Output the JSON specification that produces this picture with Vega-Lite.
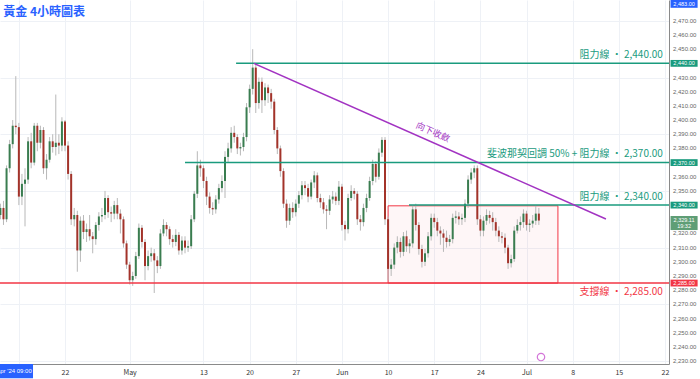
{
"$schema": "https://vega.github.io/schema/vega-lite/v6.json",
"width": 669, "height": 364,
"autosize": {"type": "none"},
"padding": {"left": 0, "top": 0, "right": 31, "bottom": 15},
"background": "white",
"config": {
"view": {"stroke": null},
"font": "Noto Sans CJK TC",
"axis": {"labelOverlap": false, "labelFlush": false, "labelBound": false, "ticks": false, "grid": true, "gridColor": "#eef1f6", "gridWidth": 1, "domainColor": "#8a8a8a", "domainWidth": 1, "title": null},
"axisX": {"labelFontSize": 7, "labelColor": "#333", "labelPadding": 4},
"axisY": {"labels": false}
},
"datasets": {
"candles": [
{"i":-6,"o":2333,"h":2341,"l":2330,"c":2338},
{"i":-5,"o":2338,"h":2343,"l":2326,"c":2330},
{"i":-4,"o":2330,"h":2368,"l":2328,"c":2366},
{"i":-3,"o":2366,"h":2386,"l":2363,"c":2383},
{"i":-2,"o":2383,"h":2400,"l":2380,"c":2396},
{"i":-1,"o":2396,"h":2431,"l":2390,"c":2395},
{"i":0,"o":2395,"h":2398,"l":2340,"c":2346},
{"i":1,"o":2346,"h":2362,"l":2340,"c":2355},
{"i":2,"o":2355,"h":2366,"l":2325,"c":2358},
{"i":3,"o":2358,"h":2388,"l":2355,"c":2385},
{"i":4,"o":2385,"h":2391,"l":2366,"c":2370},
{"i":5,"o":2370,"h":2398,"l":2368,"c":2396},
{"i":6,"o":2396,"h":2398,"l":2378,"c":2384},
{"i":7,"o":2384,"h":2396,"l":2380,"c":2393},
{"i":8,"o":2393,"h":2395,"l":2362,"c":2366},
{"i":9,"o":2366,"h":2376,"l":2358,"c":2372},
{"i":10,"o":2372,"h":2388,"l":2370,"c":2385},
{"i":11,"o":2385,"h":2390,"l":2377,"c":2381},
{"i":12,"o":2381,"h":2418,"l":2375,"c":2384},
{"i":13,"o":2384,"h":2390,"l":2376,"c":2382},
{"i":14,"o":2382,"h":2402,"l":2378,"c":2399},
{"i":15,"o":2399,"h":2400,"l":2378,"c":2382},
{"i":16,"o":2382,"h":2385,"l":2358,"c":2362},
{"i":17,"o":2362,"h":2364,"l":2326,"c":2330},
{"i":18,"o":2330,"h":2338,"l":2325,"c":2333},
{"i":19,"o":2333,"h":2336,"l":2293,"c":2308},
{"i":20,"o":2308,"h":2332,"l":2300,"c":2329},
{"i":21,"o":2329,"h":2333,"l":2316,"c":2321},
{"i":22,"o":2321,"h":2327,"l":2314,"c":2323},
{"i":23,"o":2323,"h":2333,"l":2315,"c":2318},
{"i":24,"o":2318,"h":2321,"l":2306,"c":2316},
{"i":25,"o":2316,"h":2328,"l":2312,"c":2326},
{"i":26,"o":2326,"h":2335,"l":2322,"c":2332},
{"i":27,"o":2332,"h":2338,"l":2328,"c":2333},
{"i":28,"o":2333,"h":2350,"l":2330,"c":2345},
{"i":29,"o":2345,"h":2347,"l":2331,"c":2335},
{"i":30,"o":2335,"h":2339,"l":2328,"c":2334},
{"i":31,"o":2334,"h":2343,"l":2330,"c":2340},
{"i":32,"o":2340,"h":2345,"l":2330,"c":2334},
{"i":33,"o":2334,"h":2337,"l":2320,"c":2330},
{"i":34,"o":2330,"h":2332,"l":2310,"c":2313},
{"i":35,"o":2313,"h":2315,"l":2295,"c":2298},
{"i":36,"o":2298,"h":2300,"l":2284,"c":2287},
{"i":37,"o":2287,"h":2293,"l":2283,"c":2290},
{"i":38,"o":2290,"h":2307,"l":2288,"c":2304},
{"i":39,"o":2304,"h":2327,"l":2302,"c":2324},
{"i":40,"o":2324,"h":2326,"l":2310,"c":2314},
{"i":41,"o":2314,"h":2316,"l":2287,"c":2297},
{"i":42,"o":2297,"h":2308,"l":2294,"c":2304},
{"i":43,"o":2304,"h":2310,"l":2300,"c":2306},
{"i":44,"o":2306,"h":2309,"l":2278,"c":2301},
{"i":45,"o":2301,"h":2304,"l":2292,"c":2297},
{"i":46,"o":2297,"h":2323,"l":2295,"c":2320},
{"i":47,"o":2320,"h":2330,"l":2318,"c":2326},
{"i":48,"o":2326,"h":2328,"l":2318,"c":2323},
{"i":49,"o":2323,"h":2325,"l":2312,"c":2316},
{"i":50,"o":2316,"h":2319,"l":2310,"c":2314},
{"i":51,"o":2314,"h":2323,"l":2311,"c":2319},
{"i":52,"o":2319,"h":2321,"l":2305,"c":2308},
{"i":53,"o":2308,"h":2318,"l":2305,"c":2315},
{"i":54,"o":2315,"h":2318,"l":2306,"c":2310},
{"i":55,"o":2310,"h":2315,"l":2307,"c":2311},
{"i":56,"o":2311,"h":2333,"l":2309,"c":2330},
{"i":57,"o":2330,"h":2350,"l":2328,"c":2348},
{"i":58,"o":2348,"h":2378,"l":2345,"c":2368},
{"i":59,"o":2368,"h":2372,"l":2360,"c":2366},
{"i":60,"o":2366,"h":2368,"l":2352,"c":2357},
{"i":61,"o":2357,"h":2360,"l":2340,"c":2346},
{"i":62,"o":2346,"h":2349,"l":2334,"c":2338},
{"i":63,"o":2338,"h":2342,"l":2333,"c":2337},
{"i":64,"o":2337,"h":2347,"l":2334,"c":2344},
{"i":65,"o":2344,"h":2355,"l":2341,"c":2352},
{"i":66,"o":2352,"h":2361,"l":2349,"c":2357},
{"i":67,"o":2357,"h":2378,"l":2345,"c":2374},
{"i":68,"o":2374,"h":2384,"l":2370,"c":2380},
{"i":69,"o":2380,"h":2395,"l":2377,"c":2391},
{"i":70,"o":2391,"h":2396,"l":2384,"c":2388},
{"i":71,"o":2388,"h":2390,"l":2376,"c":2380},
{"i":72,"o":2380,"h":2384,"l":2375,"c":2381},
{"i":73,"o":2381,"h":2391,"l":2378,"c":2388},
{"i":74,"o":2388,"h":2412,"l":2385,"c":2409},
{"i":75,"o":2409,"h":2425,"l":2405,"c":2422},
{"i":76,"o":2422,"h":2450,"l":2418,"c":2437},
{"i":77,"o":2437,"h":2440,"l":2405,"c":2412},
{"i":78,"o":2412,"h":2430,"l":2408,"c":2427},
{"i":79,"o":2427,"h":2430,"l":2405,"c":2414},
{"i":80,"o":2414,"h":2426,"l":2410,"c":2423},
{"i":81,"o":2423,"h":2425,"l":2412,"c":2419},
{"i":82,"o":2419,"h":2422,"l":2408,"c":2413},
{"i":83,"o":2413,"h":2415,"l":2390,"c":2393},
{"i":84,"o":2393,"h":2395,"l":2376,"c":2380},
{"i":85,"o":2380,"h":2382,"l":2360,"c":2364},
{"i":86,"o":2364,"h":2366,"l":2338,"c":2341},
{"i":87,"o":2341,"h":2344,"l":2324,"c":2329},
{"i":88,"o":2329,"h":2341,"l":2326,"c":2338},
{"i":89,"o":2338,"h":2342,"l":2331,"c":2335},
{"i":90,"o":2335,"h":2344,"l":2332,"c":2341},
{"i":91,"o":2341,"h":2350,"l":2338,"c":2347},
{"i":92,"o":2347,"h":2357,"l":2344,"c":2354},
{"i":93,"o":2354,"h":2357,"l":2347,"c":2352},
{"i":94,"o":2352,"h":2355,"l":2342,"c":2346},
{"i":95,"o":2346,"h":2358,"l":2344,"c":2356},
{"i":96,"o":2356,"h":2364,"l":2352,"c":2361},
{"i":97,"o":2361,"h":2363,"l":2342,"c":2345},
{"i":98,"o":2345,"h":2348,"l":2338,"c":2342},
{"i":99,"o":2342,"h":2345,"l":2334,"c":2337},
{"i":100,"o":2337,"h":2340,"l":2323,"c":2336},
{"i":101,"o":2336,"h":2347,"l":2333,"c":2344},
{"i":102,"o":2344,"h":2350,"l":2341,"c":2346},
{"i":103,"o":2346,"h":2349,"l":2340,"c":2343},
{"i":104,"o":2343,"h":2357,"l":2340,"c":2353},
{"i":105,"o":2353,"h":2355,"l":2322,"c":2326},
{"i":106,"o":2326,"h":2329,"l":2315,"c":2323},
{"i":107,"o":2323,"h":2348,"l":2320,"c":2345},
{"i":108,"o":2345,"h":2354,"l":2343,"c":2350},
{"i":109,"o":2350,"h":2352,"l":2344,"c":2348},
{"i":110,"o":2348,"h":2350,"l":2326,"c":2330},
{"i":111,"o":2330,"h":2333,"l":2322,"c":2328},
{"i":112,"o":2328,"h":2341,"l":2325,"c":2338},
{"i":113,"o":2338,"h":2348,"l":2335,"c":2345},
{"i":114,"o":2345,"h":2360,"l":2343,"c":2357},
{"i":115,"o":2357,"h":2372,"l":2354,"c":2369},
{"i":116,"o":2369,"h":2371,"l":2356,"c":2360},
{"i":117,"o":2360,"h":2380,"l":2358,"c":2377},
{"i":118,"o":2377,"h":2388,"l":2374,"c":2386},
{"i":119,"o":2386,"h":2388,"l":2326,"c":2330},
{"i":120,"o":2330,"h":2332,"l":2287,"c":2295},
{"i":121,"o":2295,"h":2302,"l":2290,"c":2298},
{"i":122,"o":2298,"h":2313,"l":2295,"c":2310},
{"i":123,"o":2310,"h":2318,"l":2306,"c":2314},
{"i":124,"o":2314,"h":2317,"l":2303,"c":2307},
{"i":125,"o":2307,"h":2321,"l":2304,"c":2318},
{"i":126,"o":2318,"h":2322,"l":2307,"c":2311},
{"i":127,"o":2311,"h":2316,"l":2306,"c":2313},
{"i":128,"o":2313,"h":2340,"l":2310,"c":2337},
{"i":129,"o":2337,"h":2341,"l":2322,"c":2326},
{"i":130,"o":2326,"h":2328,"l":2305,"c":2309},
{"i":131,"o":2309,"h":2312,"l":2296,"c":2300},
{"i":132,"o":2300,"h":2309,"l":2297,"c":2306},
{"i":133,"o":2306,"h":2321,"l":2303,"c":2318},
{"i":134,"o":2318,"h":2334,"l":2315,"c":2331},
{"i":135,"o":2331,"h":2334,"l":2324,"c":2328},
{"i":136,"o":2328,"h":2331,"l":2318,"c":2322},
{"i":137,"o":2322,"h":2325,"l":2312,"c":2320},
{"i":138,"o":2320,"h":2323,"l":2307,"c":2317},
{"i":139,"o":2317,"h":2322,"l":2310,"c":2314},
{"i":140,"o":2314,"h":2319,"l":2311,"c":2316},
{"i":141,"o":2316,"h":2334,"l":2313,"c":2331},
{"i":142,"o":2331,"h":2336,"l":2327,"c":2332},
{"i":143,"o":2332,"h":2335,"l":2326,"c":2330},
{"i":144,"o":2330,"h":2334,"l":2326,"c":2331},
{"i":145,"o":2331,"h":2344,"l":2328,"c":2341},
{"i":146,"o":2341,"h":2361,"l":2338,"c":2358},
{"i":147,"o":2358,"h":2366,"l":2355,"c":2363},
{"i":148,"o":2363,"h":2368,"l":2359,"c":2366},
{"i":149,"o":2366,"h":2368,"l":2326,"c":2330},
{"i":150,"o":2330,"h":2333,"l":2318,"c":2322},
{"i":151,"o":2322,"h":2332,"l":2318,"c":2329},
{"i":152,"o":2329,"h":2337,"l":2326,"c":2333},
{"i":153,"o":2333,"h":2336,"l":2327,"c":2331},
{"i":154,"o":2331,"h":2335,"l":2322,"c":2328},
{"i":155,"o":2328,"h":2331,"l":2318,"c":2322},
{"i":156,"o":2322,"h":2325,"l":2314,"c":2318},
{"i":157,"o":2318,"h":2321,"l":2313,"c":2317},
{"i":158,"o":2317,"h":2320,"l":2306,"c":2310},
{"i":159,"o":2310,"h":2312,"l":2295,"c":2299},
{"i":160,"o":2299,"h":2305,"l":2296,"c":2302},
{"i":161,"o":2302,"h":2325,"l":2300,"c":2322},
{"i":162,"o":2322,"h":2330,"l":2320,"c":2326},
{"i":163,"o":2326,"h":2332,"l":2322,"c":2328},
{"i":164,"o":2328,"h":2337,"l":2324,"c":2334},
{"i":165,"o":2334,"h":2336,"l":2322,"c":2326},
{"i":166,"o":2326,"h":2330,"l":2321,"c":2327},
{"i":167,"o":2327,"h":2333,"l":2324,"c":2329},
{"i":168,"o":2329,"h":2340,"l":2326,"c":2334},
{"i":169,"o":2334,"h":2338,"l":2326,"c":2329.11}
],
"yticks": [
{"v":2230},{"v":2240},{"v":2250},{"v":2260},{"v":2270},{"v":2280},{"v":2290},{"v":2300},{"v":2310},{"v":2320},{"v":2350},
{"v":2360},{"v":2380},{"v":2390},{"v":2400},{"v":2410},{"v":2420},{"v":2430},{"v":2450},{"v":2460},{"v":2470}
],
"levels": [
{"a":70.6,"b":211.3,"p":2440,"kind":"res"},
{"a":54,"b":211.3,"p":2370,"kind":"res"},
{"a":126.8,"b":211.3,"p":2340,"kind":"res"},
{"a":-6.2,"b":211.3,"p":2285,"kind":"sup"}
],
"trend": [{"i":76.4,"p":2440,"i2":190.8,"p2":2330.2}],
"box": [{"a":120.0,"b":175.2,"lo":2285,"hi":2339.5}],
"notes": [
{"x":209.3,"y":2445.6,"txt":"阻力線 · 2,440.00","kind":"res"},
{"x":209.3,"y":2375.8,"txt":"斐波那契回調 50% + 阻力線 · 2,370.00","kind":"res"},
{"x":209.3,"y":2345.5,"txt":"阻力線 · 2,340.00","kind":"res"},
{"x":209.3,"y":2278.9,"txt":"支撐線 · 2,285.00","kind":"sup"}
],
"trendnote": [{"x":134.6,"y":2391.5,"txt":"向下收斂"}],
"title": [{"x":-5.1,"y":2476.2,"txt":"黃金 4小時圖表"}],
"tagboxes": [
{"lo":2479.2,"hi":2485,"kind":"cross"},
{"lo":2437.6,"hi":2442.4,"kind":"res"},
{"lo":2367.6,"hi":2372.4,"kind":"res"},
{"lo":2337.6,"hi":2342.4,"kind":"res"},
{"lo":2322.4,"hi":2332.3,"kind":"last"},
{"lo":2282.6,"hi":2287.4,"kind":"sup"}
],
"tagtext": [
{"p":2482,"txt":"2,483.00"},
{"p":2440,"txt":"2,440.00"},
{"p":2370,"txt":"2,370.00"},
{"p":2340,"txt":"2,340.00"},
{"p":2329.4,"txt":"2,329.11"},
{"p":2325,"txt":"19:32"},
{"p":2285,"txt":"2,285.00"}
],
"datetag": [{"a":-8,"b":4.6,"lo":2217.8,"hi":2227.9,"xt":4.2,"yt":2222.8,"txt":"Apr '24   09:00"}],
"event": [{"i":169.7,"p":2232.8}]
},
"layer": [
{
"data": {"name": "box"},
"mark": {"type": "rect", "fill": "#f23645", "fillOpacity": 0.045, "stroke": "#f23645", "strokeWidth": 1},
"encoding": {
"x": {"field": "a", "type": "quantitative", "scale": {"domain": [-6.13, 211.3], "nice": false, "zero": false},
"axis": {"title": null, "orient": "bottom", "values": [0,15,36,60,75,90,105,120,135,150,165,180,195,210],
"labelExpr": "datum.value==15?'22':datum.value==36?'May':datum.value==60?'13':datum.value==75?'20':datum.value==90?'27':datum.value==105?'Jun':datum.value==120?'10':datum.value==135?'17':datum.value==150?'24':datum.value==165?'Jul':datum.value==180?'8':datum.value==195?'15':datum.value==210?'22':''"}},
"x2": {"field": "b"},
"y": {"field": "lo", "type": "quantitative", "scale": {"domain": [2227.9, 2484.7], "nice": false, "zero": false},
"axis": {"title": null, "orient": "right", "labels": false, "values": [2230,2240,2250,2260,2270,2280,2290,2300,2310,2320,2330,2340,2350,2360,2370,2380,2390,2400,2410,2420,2430,2440,2450,2460,2470,2480]}},
"y2": {"field": "hi"}
}
},
{
"data": {"name": "yticks"},
"mark": {"type": "text", "align": "left", "baseline": "middle", "fontSize": 6, "color": "#666", "font": "Liberation Sans"},
"encoding": {
"x": {"datum": 212.6, "type": "quantitative"},
"y": {"field": "v", "type": "quantitative"},
"text": {"field": "v", "type": "quantitative", "format": ",.2f"}
}
},
{
"data": {"name": "candles"},
"mark": {"type": "rule", "color": "#b8b8b8", "strokeWidth": 1},
"encoding": {
"x": {"field": "i", "type": "quantitative"},
"y": {"field": "l", "type": "quantitative"},
"y2": {"field": "h"}
}
},
{
"data": {"name": "candles"},
"mark": {"type": "rule", "strokeWidth": 2, "strokeCap": "butt"},
"encoding": {
"x": {"field": "i", "type": "quantitative"},
"y": {"field": "o", "type": "quantitative"},
"y2": {"field": "c"},
"color": {"condition": {"test": "datum.c >= datum.o", "value": "#3a7d50"}, "value": "#a3332a"}
}
},
{
"data": {"name": "levels"},
"mark": {"type": "rule", "strokeWidth": 1.5},
"encoding": {
"x": {"field": "a", "type": "quantitative"},
"x2": {"field": "b"},
"y": {"field": "p", "type": "quantitative"},
"color": {"field": "kind", "type": "nominal", "legend": null, "scale": {"domain": ["res","sup","last","cross"], "range": ["#1a9b7e","#f23645","#5f9e76","#2962ff"]}}
}
},
{
"data": {"name": "trend"},
"mark": {"type": "rule", "strokeWidth": 1.5, "color": "#a233c2"},
"encoding": {
"x": {"field": "i", "type": "quantitative"},
"x2": {"field": "i2"},
"y": {"field": "p", "type": "quantitative"},
"y2": {"field": "p2"}
}
},
{
"data": {"name": "notes"},
"mark": {"type": "text", "align": "right", "baseline": "middle", "fontSize": 10},
"encoding": {
"x": {"field": "x", "type": "quantitative"},
"y": {"field": "y", "type": "quantitative"},
"text": {"field": "txt"},
"color": {"field": "kind", "type": "nominal", "legend": null}
}
},
{
"data": {"name": "trendnote"},
"mark": {"type": "text", "align": "center", "baseline": "middle", "fontSize": 9, "angle": 24, "color": "#a233c2"},
"encoding": {
"x": {"field": "x", "type": "quantitative"},
"y": {"field": "y", "type": "quantitative"},
"text": {"field": "txt"}
}
},
{
"data": {"name": "title"},
"mark": {"type": "text", "align": "left", "baseline": "middle", "fontSize": 12, "fontWeight": "bold", "color": "#2962ff"},
"encoding": {
"x": {"field": "x", "type": "quantitative"},
"y": {"field": "y", "type": "quantitative"},
"text": {"field": "txt"}
}
},
{
"data": {"name": "tagboxes"},
"mark": {"type": "rect"},
"encoding": {
"x": {"datum": 211.8, "type": "quantitative"},
"x2": {"datum": 220.6},
"y": {"field": "lo", "type": "quantitative"},
"y2": {"field": "hi"},
"color": {"field": "kind", "type": "nominal", "legend": null}
}
},
{
"data": {"name": "tagtext"},
"mark": {"type": "text", "align": "center", "baseline": "middle", "fontSize": 5.5, "color": "white", "font": "Liberation Sans"},
"encoding": {
"x": {"datum": 216.2, "type": "quantitative"},
"y": {"field": "p", "type": "quantitative"},
"text": {"field": "txt"}
}
},
{
"data": {"name": "datetag"},
"mark": {"type": "rect", "color": "#2962ff"},
"encoding": {
"x": {"field": "a", "type": "quantitative"},
"x2": {"field": "b"},
"y": {"field": "lo", "type": "quantitative"},
"y2": {"field": "hi"}
}
},
{
"data": {"name": "datetag"},
"mark": {"type": "text", "align": "right", "baseline": "middle", "fontSize": 6, "color": "white", "font": "Liberation Sans"},
"encoding": {
"x": {"field": "xt", "type": "quantitative"},
"y": {"field": "yt", "type": "quantitative"},
"text": {"field": "txt"}
}
},
{
"data": {"name": "event"},
"mark": {"type": "point", "shape": "circle", "size": 55, "filled": false, "stroke": "#c23cc9", "strokeWidth": 1.2},
"encoding": {
"x": {"field": "i", "type": "quantitative"},
"y": {"field": "p", "type": "quantitative"}
}
}
]
}
